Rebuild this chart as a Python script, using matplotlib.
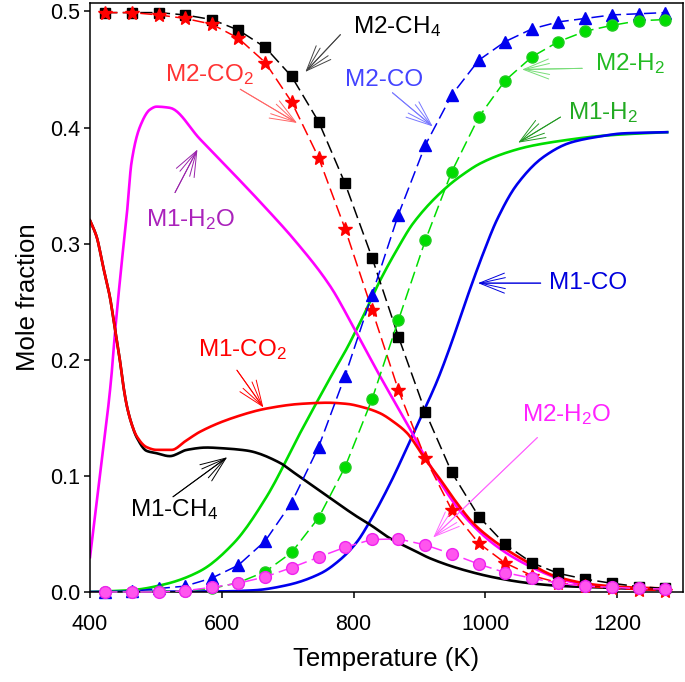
import matplotlib
matplotlib.use("Agg")
import matplotlib.pyplot as plt
import numpy as np

plt.rcParams['font.family'] = ['Liberation Sans', 'DejaVu Sans']
plt.rcParams['mathtext.fontset'] = 'custom'
plt.rcParams['mathtext.rm'] = 'Liberation Sans'
plt.rcParams['mathtext.it'] = 'Liberation Sans'

# M2 series (dashed with markers), common temperature grid
t_m2 = [423, 463, 504, 544, 585, 625, 666, 706, 747, 787, 828,
        868, 909, 949, 990, 1030, 1071, 1111, 1152, 1192, 1233, 1273]
m2_ch4 = [0.499, 0.499, 0.499, 0.497, 0.493, 0.484, 0.469, 0.444, 0.405, 0.352, 0.288,
          0.220, 0.155, 0.103, 0.065, 0.041, 0.025, 0.016, 0.011, 0.0075, 0.0046, 0.003]
m2_co2 = [0.499, 0.499, 0.497, 0.494, 0.489, 0.477, 0.456, 0.422, 0.374, 0.313, 0.243,
          0.174, 0.115, 0.0707, 0.042, 0.025, 0.014, 0.008, 0.005, 0.003, 0.002, 0.001]
m2_co = [0.0, 0.0005, 0.003, 0.005, 0.012, 0.023, 0.044, 0.077, 0.125, 0.186, 0.256,
         0.325, 0.385, 0.428, 0.458, 0.474, 0.485, 0.491, 0.494, 0.497, 0.498, 0.499]
m2_h2 = [0.0, 0.0, 0.0005, 0.001, 0.003, 0.008, 0.0175, 0.034, 0.064, 0.1075, 0.166,
         0.234, 0.303, 0.362, 0.409, 0.4405, 0.461, 0.474, 0.483, 0.488, 0.492, 0.493]
m2_h2o = [0.0, 0.0, 0.0, 0.001, 0.004, 0.0075, 0.013, 0.021, 0.030, 0.0385, 0.0452,
          0.0457, 0.0405, 0.0328, 0.024, 0.0167, 0.0118, 0.0075, 0.005, 0.004, 0.003, 0.0025]

# M1 series (solid lines)
t_m1_co2 = [400, 410, 420, 430, 438, 446, 451, 456, 463, 471, 486, 501, 524, 545, 567, 617,
            668, 719, 760, 790, 815, 840, 862, 881, 908, 932, 957, 982, 1018, 1058, 1109,
            1170, 1220, 1275]
m1_co2 = [0.320, 0.306, 0.280, 0.2546, 0.226, 0.197, 0.176, 0.160, 0.145, 0.134, 0.1247,
          0.1224, 0.1224, 0.130, 0.138, 0.150, 0.158, 0.162, 0.163, 0.162, 0.159, 0.154,
          0.146, 0.137, 0.115, 0.0966, 0.0765, 0.059, 0.042, 0.0276, 0.013, 0.006, 0.004, 0.003]

t_m1_ch4 = [400, 410, 420, 430, 438, 446, 451, 456, 463, 471, 486, 501, 521, 547, 577, 600,
            638, 689, 704, 739, 754, 790, 805, 825, 856, 891, 916, 967, 1018, 1068, 1120,
            1170, 1220, 1275]
m1_ch4 = [0.320, 0.306, 0.280, 0.2546, 0.226, 0.197, 0.176, 0.160, 0.145, 0.133, 0.1215,
          0.1195, 0.117, 0.1224, 0.1244, 0.1238, 0.1218, 0.111, 0.105, 0.091, 0.085, 0.0707,
          0.065, 0.058, 0.046, 0.036, 0.029, 0.019, 0.012, 0.0075, 0.005, 0.004, 0.003, 0.002]

t_m1_h2o = [400, 415, 432, 438, 448, 456, 463, 476, 491, 501, 521, 567, 613, 663, 712, 765,
            800, 840, 866, 886, 906, 932, 967, 1018, 1068, 1119, 1170, 1220, 1275]
m1_h2o = [0.030, 0.100, 0.183, 0.224, 0.283, 0.326, 0.370, 0.401, 0.4155, 0.418, 0.417,
          0.390, 0.363, 0.333, 0.302, 0.263, 0.228, 0.186, 0.160, 0.140, 0.119, 0.094,
          0.066, 0.039, 0.022, 0.0103, 0.0046, 0.003, 0.002]

t_m1_h2 = [400, 465, 516, 567, 618, 668, 719, 770, 790, 800, 815, 840, 866, 891, 942, 967,
           992, 1030, 1068, 1120, 1170, 1220, 1276]
m1_h2 = [0.0, 0.0017, 0.007, 0.018, 0.042, 0.082, 0.137, 0.190, 0.210, 0.221, 0.238, 0.268,
         0.295, 0.318, 0.349, 0.360, 0.369, 0.378, 0.384, 0.389, 0.3925, 0.3945, 0.396]

t_m1_co = [400, 600, 650, 700, 750, 780, 805, 825, 856, 876, 896, 927, 947, 970, 997, 1018,
           1048, 1089, 1129, 1170, 1210, 1276]
m1_co = [0.0, 0.0005, 0.0015, 0.006, 0.016, 0.028, 0.043, 0.061, 0.094, 0.118, 0.143,
         0.182, 0.212, 0.250, 0.292, 0.321, 0.351, 0.375, 0.387, 0.392, 0.395, 0.396]


def smooth(x, y, n=12):
    # monotone cubic (Fritsch-Carlson) just for drawing the solid curves
    x = np.asarray(x, float)
    y = np.asarray(y, float)
    h = np.diff(x)
    d = np.diff(y) / h
    m = np.zeros_like(y)
    m[0], m[-1] = d[0], d[-1]
    for i in range(1, len(x) - 1):
        if d[i - 1] * d[i] > 0:
            w1 = 2 * h[i] + h[i - 1]
            w2 = h[i] + 2 * h[i - 1]
            m[i] = (w1 + w2) / (w1 / d[i - 1] + w2 / d[i])
    xs, ys = [], []
    for i in range(len(x) - 1):
        t = np.linspace(0, 1, n, endpoint=False)
        h00 = 2 * t**3 - 3 * t**2 + 1
        h10 = t**3 - 2 * t**2 + t
        h01 = -2 * t**3 + 3 * t**2
        h11 = t**3 - t**2
        xs.append(x[i] + t * h[i])
        ys.append(h00 * y[i] + h10 * h[i] * m[i] + h01 * y[i + 1] + h11 * h[i] * m[i + 1])
    xs.append([x[-1]])
    ys.append([y[-1]])
    return np.concatenate(xs), np.concatenate(ys)


fig = plt.figure(figsize=(6.85, 6.82), dpi=100)
ax = fig.add_axes([0.1314, 0.132, 0.8657, 0.864])

lw_solid = 1.9
ax.plot(*smooth(t_m1_h2, m1_h2), color='#00dd00', lw=lw_solid, zorder=2)
ax.plot(*smooth(t_m1_co, m1_co), color='#0000ee', lw=lw_solid, zorder=2)
ax.plot(*smooth(t_m1_h2o, m1_h2o), color='#ff00ff', lw=lw_solid, zorder=2)
ax.plot(*smooth(t_m1_ch4, m1_ch4), color='black', lw=lw_solid, zorder=2)
ax.plot(*smooth(t_m1_co2, m1_co2), color='#ff0000', lw=lw_solid, zorder=2)

dash = (8, 3.5)
kw = dict(lw=1.1, dashes=dash, clip_on=False, zorder=3)
ax.plot(t_m2, m2_ch4, color='black', marker='s', ms=7.5, **kw)
ax.plot(t_m2, m2_co2, color='#ff0000', marker='*', ms=10, **kw)
ax.plot(t_m2, m2_co, color='#0000ee', marker='^', ms=8, **kw)
ax.plot(t_m2, m2_h2, color='#00dd00', marker='o', ms=8, mec='#22cc22', **kw)
ax.plot(t_m2, m2_h2o, color='#ff33ff', marker='o', ms=8.5, mfc='#ff55ee', mec='#ee22ee', **kw)

ax.set_xlim(400, 1300)
ax.set_ylim(0, 0.5075)
ax.set_xticks([400, 600, 800, 1000, 1200])
ax.set_yticks([0.0, 0.1, 0.2, 0.3, 0.4, 0.5])
ax.set_yticklabels(['0.0', '0.1', '0.2', '0.3', '0.4', '0.5'])
ax.tick_params(axis='both', direction='out', length=4.5, width=1.1, labelsize=15.5)
ax.tick_params(axis='x', pad=11)
ax.tick_params(axis='y', pad=2.5)
for sp in ax.spines.values():
    sp.set_linewidth(1.1)

ax.set_xlabel('Temperature (K)', fontsize=18.5, labelpad=9)
ax.set_ylabel('Mole fraction', fontsize=18.5, labelpad=7)


def label(text, xy_text, tail, head, tcolor, acolor):
    ax.text(xy_text[0], xy_text[1], text, color=tcolor, fontsize=17.5,
            ha='center', va='center', zorder=5)
    for hw in (0.22, 0.4):
        ax.annotate('', xy=head, xytext=tail, zorder=5,
                    arrowprops=dict(arrowstyle='->, head_length=1.0, head_width=%.2f' % hw,
                                    color=acolor, lw=0.7, mutation_scale=18,
                                    shrinkA=0, shrinkB=0))


label('M2-CH$_{\\mathrm{4}}$', (866, 0.487), (780, 0.480), (727, 0.448), 'black', '#444444')
label('M2-CO$_{\\mathrm{2}}$', (582, 0.446), (628, 0.433), (714, 0.404), '#ff3333', '#ff6666')
label('M2-CO', (847, 0.441), (859, 0.430), (920, 0.401), '#4444ff', '#7777ff')
label('M2-H$_{\\mathrm{2}}$', (1219, 0.455), (1147, 0.451), (1056, 0.450), '#22bb22', '#77dd77')
label('M1-H$_{\\mathrm{2}}$', (1179, 0.413), (1114, 0.409), (1050, 0.387), '#22aa22', '#229922')
label('M1-H$_{\\mathrm{2}}$O', (552, 0.321), (529, 0.344), (563, 0.381), '#aa22bb', '#9922aa')
label('M1-CO', (1156, 0.266), (1084, 0.266), (989, 0.266), '#0000dd', '#0000dd')
label('M1-CO$_{\\mathrm{2}}$', (632, 0.209), (623, 0.191), (663, 0.159), '#ff0000', '#ff0000')
label('M1-CH$_{\\mathrm{4}}$', (528, 0.0707), (526, 0.082), (608, 0.116), 'black', 'black')
label('M2-H$_{\\mathrm{2}}$O', (1123, 0.153), (1079, 0.133), (921, 0.047), '#ff22ff', '#ff66ff')

fig.savefig('out.png', dpi=100)
